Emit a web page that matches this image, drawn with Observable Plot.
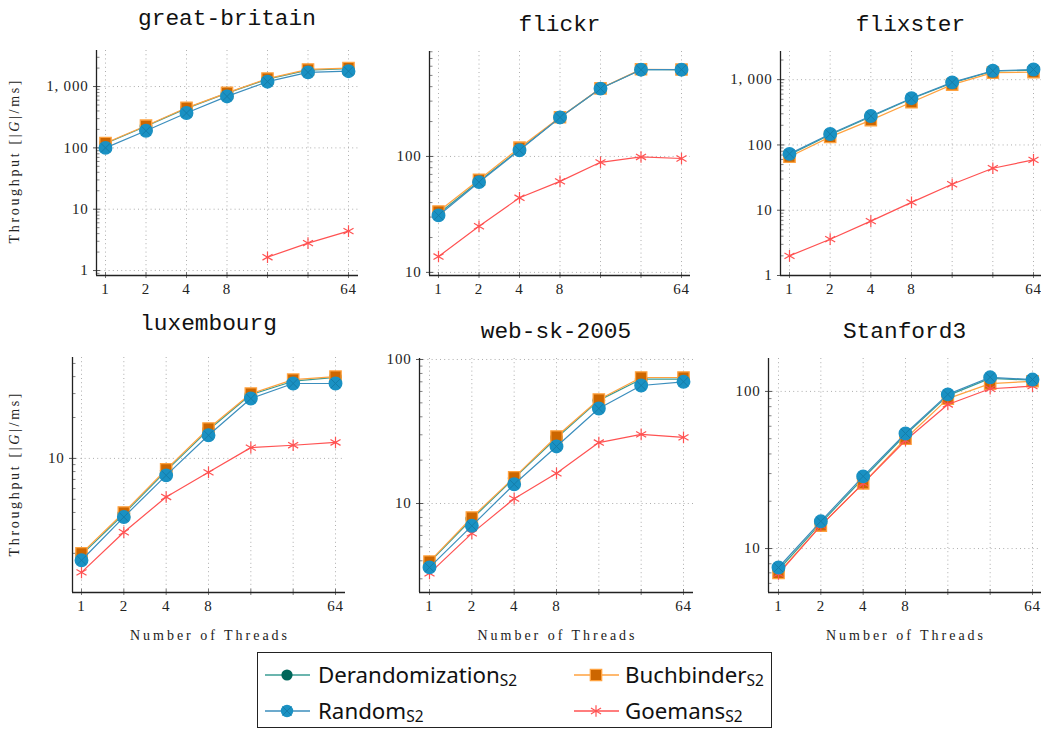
<!DOCTYPE html>
<html><head><meta charset="utf-8">
<script src="https://cdn.jsdelivr.net/npm/d3@7"></script>
<script src="https://cdn.jsdelivr.net/npm/@observablehq/plot@0.6"></script>
<style>
body{margin:0;background:#fff;}
#root{position:relative;width:1041px;height:729px;overflow:hidden;background:#fff;}
#root svg{overflow:visible;}
</style></head><body><div id="root"></div><script>
// ---------- data ----------
const threads = [1, 2, 4, 8, 16, 32, 64];
const xTickLabels = ["1", "2", "4", "8", "", "", "64"];
const yTickValues = [1, 10, 100, 1000];
const yTickLabels = ["1", "10", "100", "1, 000"];
const datasetNames = ["great-britain", "flickr", "flixster", "luxembourg", "web-sk-2005", "Stanford3"];
const seriesKeys = ["derand", "buch", "goemans", "random"];
const legendNames = ["Derandomization", "Buchbinder", "Random", "Goemans"];
const legendKeys = ["derand", "buch", "random", "goemans"];
const subscriptText = "S2";
const yAxisLabel = "Throughput";
const xAxisLabel = "Number of Threads";

const greatBritainDerand = [118, 225, 440, 780, 1320, 1850, 1950];
const greatBritainBuch   = [120, 230, 450, 790, 1350, 1900, 2000];
const greatBritainRandom = [100, 190, 370, 690, 1200, 1700, 1780];
const greatBritainGoemans= [null, null, null, null, 1.65, 2.8, 4.4];

const flickrDerand = [32, 61, 115, 217, 385, 560, 560];
const flickrBuch   = [33.5, 63, 119, 218, 387, 565, 562];
const flickrRandom = [31, 60, 113, 217, 385, 560, 560];
const flickrGoemans= [13.7, 25, 44, 61, 89, 99, 96];

const flixsterDerand = [71, 143, 270, 510, 890, 1350, 1400];
const flixsterBuch   = [66, 133, 240, 450, 840, 1280, 1300];
const flixsterRandom = [73, 147, 277, 520, 910, 1370, 1430];
const flixsterGoemans= [2.0, 3.6, 6.8, 13.2, 25, 44, 59];

const luxembourgDerand = [1.95, 3.9, 8.1, 16.2, 29.5, 37, 39.5];
const luxembourgBuch   = [2.0, 4.0, 8.3, 16.6, 30, 38, 40];
const luxembourgRandom = [1.78, 3.7, 7.5, 14.8, 27.6, 35.6, 35.6];
const luxembourgGoemans= [1.45, 2.86, 5.2, 7.9, 12.0, 12.5, 13.1];

const webSkDerand = [3.9, 7.8, 15, 28.5, 52, 73, 73];
const webSkBuch   = [3.95, 8.0, 15.2, 29.2, 52.7, 75, 75];
const webSkRandom = [3.6, 7.0, 13.6, 24.9, 45.7, 66, 70];
const webSkGoemans= [3.27, 6.2, 10.8, 16.2, 26.5, 30.2, 28.8];

const stanfordDerand = [7.3, 14.5, 28, 53, 94, 121, 118];
const stanfordBuch   = [7.0, 14, 26, 50, 90, 112, 116];
const stanfordRandom = [7.57, 14.9, 28.8, 54, 95.7, 123, 119];
const stanfordGoemans= [6.9, 14, 26, 48.7, 82.6, 104, 108];

const yLimits = [[0.83, 3870], [9.4, 804], [1.0, 2700], [1.03, 55.3], [2.41, 101.6], [5.25, 162]];

// ---------- layout / style ----------
const panels = [
  {derand: greatBritainDerand, buch: greatBritainBuch, random: greatBritainRandom, goemans: greatBritainGoemans},
  {derand: flickrDerand, buch: flickrBuch, random: flickrRandom, goemans: flickrGoemans},
  {derand: flixsterDerand, buch: flixsterBuch, random: flixsterRandom, goemans: flixsterGoemans},
  {derand: luxembourgDerand, buch: luxembourgBuch, random: luxembourgRandom, goemans: luxembourgGoemans},
  {derand: webSkDerand, buch: webSkBuch, random: webSkRandom, goemans: webSkGoemans},
  {derand: stanfordDerand, buch: stanfordBuch, random: stanfordRandom, goemans: stanfordGoemans}
];
const frames = [
  {L: 96, R: 358, T: 50, B: 275, x1: 105, x64: 348, titleY: 25},
  {L: 429, R: 690, T: 51, B: 275, x1: 438, x64: 681, titleY: 31},
  {L: 780, R: 1041, T: 51, B: 275, x1: 789, x64: 1033, titleY: 31},
  {L: 72, R: 345, T: 357, B: 592, x1: 81, x64: 335, titleY: 330},
  {L: 419, R: 693, T: 358, B: 592, x1: 429, x64: 683, titleY: 338},
  {L: 768, R: 1041, T: 358, B: 592, x1: 778, x64: 1032, titleY: 338}
];
const lineColor = {derand: "#3a9c93", buch: "#ffa23f", random: "#3b8ebd", goemans: "#ff5252"};
const markFill = {derand: "#00665a", buch: "#cc6600", random: "#1a91c3", goemans: "none"};
const gridStyle = {stroke: "#999", strokeOpacity: 1, strokeWidth: 0.8, strokeDasharray: "1,3.2"};

const xLabelMap = new Map(threads.map((t, i) => [t, xTickLabels[i]]));
const yLabelMap = new Map(yTickValues.map((v, i) => [v, yTickLabels[i]]));

const root = document.getElementById("root");
const overlay = d3.select(root).append("svg")
  .attr("width", 1041).attr("height", 729)
  .style("position", "absolute").style("left", "0px").style("top", "0px");

panels.forEach((p, i) => {
  const f = frames[i];
  const s = (f.x64 - f.x1) / 6;
  const xmin = 2 ** ((f.L - f.x1) / s);
  const xmax = 2 ** (6 + (f.R - f.x64) / s);
  const [ymin, ymax] = yLimits[i];
  const mL = 70, mT = 12, mB = 34, mR = 0;
  const plotW = f.R - f.L, plotH = f.B - f.T;
  const majors = [], minors = [];
  for (let e = -1; e <= 4; e++) for (let k = 1; k <= 9; k++) {
    const v = k * 10 ** e;
    if (v >= ymin && v <= ymax) (k === 1 ? majors : minors).push(v);
  }
  const rows = [];
  seriesKeys.forEach(key => threads.forEach((t, j) => {
    const v = p[key][j];
    if (v != null) rows.push({key, t, v});
  }));
  const sel = key => rows.filter(r => r.key === key);
  const lineMark = key => Plot.line(sel(key), {x: "t", y: "v", stroke: lineColor[key], strokeWidth: 1.2});
  const chart = Plot.plot({
    width: plotW + mL + mR, height: plotH + mT + mB,
    marginLeft: mL, marginRight: mR, marginTop: mT, marginBottom: mB,
    x: {type: "log", base: 2, domain: [xmin, xmax]},
    y: {type: "log", domain: [ymin, ymax]},
    style: {fontFamily: "'Liberation Serif', serif", fontSize: "15px", letterSpacing: "0.8px", color: "#222", background: "transparent", overflow: "visible"},
    marks: [
      Plot.gridX({ticks: threads, ...gridStyle}),
      Plot.gridY({ticks: majors, ...gridStyle}),
      Plot.tickY(minors, {y: d => d, insetRight: plotW - 3.5, stroke: "#666", strokeWidth: 0.8}),
      Plot.tickY(majors, {y: d => d, insetLeft: -3, insetRight: plotW - 4, stroke: "#444", strokeWidth: 0.9}),
      Plot.tickX(threads, {x: d => d, insetTop: plotH - 3, insetBottom: -3, stroke: "#666", strokeWidth: 0.9}),
      Plot.axisY({ticks: majors, tickSize: 0, tickPadding: 8, tickFormat: d => yLabelMap.get(d), label: null, fontSize: 15}),
      Plot.axisX({ticks: threads, tickSize: 0, tickPadding: 8, tickFormat: d => xLabelMap.get(d), label: null, fontSize: 15}),
      Plot.ruleX([xmin], {stroke: "#222", strokeWidth: 1.3}),
      Plot.ruleY([ymin], {stroke: "#222", strokeWidth: 1.3}),
      lineMark("derand"),
      Plot.dot(sel("derand"), {x: "t", y: "v", r: 5.6, fill: markFill.derand, stroke: markFill.derand}),
      lineMark("buch"),
      Plot.dot(sel("buch"), {x: "t", y: "v", symbol: "square", r: 6.4, fill: markFill.buch, stroke: lineColor.buch, strokeWidth: 1.3}),
      lineMark("goemans"),
      Plot.dot(sel("goemans"), {x: "t", y: "v", symbol: "asterisk", r: 5.5, stroke: lineColor.goemans, strokeWidth: 1.2}),
      lineMark("random"),
      Plot.dot(sel("random"), {x: "t", y: "v", r: 6.2, fill: markFill.random, stroke: markFill.random}),
      Plot.dot(sel("random"), {x: "t", y: "v", symbol: "times", r: 4.2, stroke: "#147aa6", strokeWidth: 0.9})
    ]
  });
  chart.style.position = "absolute";
  chart.style.left = (f.L - mL) + "px";
  chart.style.top = (f.T - mT) + "px";
  root.appendChild(chart);

  // title
  overlay.append("text").attr("x", (f.L + f.R) / 2).attr("y", f.titleY)
    .attr("text-anchor", "middle").attr("font-family", "'Liberation Mono', monospace")
    .attr("font-size", 22.8).attr("fill", "#111").text(datasetNames[i]);
  // y label for the left column
  if (i % 3 === 0) {
    const cy = i === 0 ? 162 : 475;
    const t = overlay.append("text").attr("transform", `translate(19,${cy}) rotate(-90)`)
      .attr("text-anchor", "middle").attr("font-family", "'Liberation Serif', serif")
      .attr("font-size", 14).attr("fill", "#222")
      .attr("textLength", 163).attr("lengthAdjust", "spacing");
    t.append("tspan").text(yAxisLabel + " [|");
    t.append("tspan").attr("font-style", "italic").text("G");
    t.append("tspan").text("|/ms]");
  }
  if (i >= 3) {
    overlay.append("text").attr("x", (f.L + f.R) / 2).attr("y", 640)
      .attr("text-anchor", "middle").attr("font-family", "'Liberation Serif', serif")
      .attr("font-size", 14).attr("fill", "#222")
      .attr("textLength", 157).attr("lengthAdjust", "spacing").text(xAxisLabel);
  }
});

// ---------- legend ----------
const lg = overlay.append("g");
lg.append("rect").attr("x", 257.5).attr("y", 652.5).attr("width", 514).attr("height", 75)
  .attr("fill", "#fff").attr("stroke", "#222").attr("stroke-width", 1);
const colX = [{l0: 265, l1: 310, m: 287, t: 318}, {l0: 574, l1: 619, m: 596, t: 625}];
const rowY = [675, 711];
legendKeys.forEach((key, k) => {
  const c = colX[k % 2], y = rowY[Math.floor(k / 2)];
  lg.append("line").attr("x1", c.l0).attr("x2", c.l1).attr("y1", y).attr("y2", y)
    .attr("stroke", lineColor[key]).attr("stroke-width", 1.3);
  const sym = {derand: d3.symbolCircle, buch: d3.symbolSquare, random: d3.symbolCircle, goemans: d3.symbolAsterisk}[key];
  const size = {derand: Math.PI * 5.6 * 5.6, buch: Math.PI * 6.4 * 6.4, random: Math.PI * 6.2 * 6.2, goemans: Math.PI * 5.5 * 5.5}[key];
  const path = lg.append("path").attr("d", d3.symbol(sym, size)()).attr("transform", `translate(${c.m},${y})`);
  if (key === "goemans") path.attr("fill", "none").attr("stroke", lineColor.goemans).attr("stroke-width", 1.2);
  else if (key === "buch") path.attr("fill", markFill.buch).attr("stroke", lineColor.buch).attr("stroke-width", 1.3);
  else path.attr("fill", markFill[key]);
  if (key === "random") lg.append("path").attr("d", d3.symbol(d3.symbolTimes, Math.PI * 4.2 * 4.2)())
    .attr("transform", `translate(${c.m},${y})`).attr("fill", "none").attr("stroke", "#147aa6").attr("stroke-width", 0.9);
  const t = lg.append("text").attr("x", c.t).attr("y", y + 7.5).attr("font-family", "'Noto Sans', sans-serif")
    .attr("font-size", 22.3).attr("fill", "#111");
  t.append("tspan").text(legendNames[k]);
  t.append("tspan").attr("font-size", 15.5).attr("dy", 3).text(subscriptText);
});
</script></body></html>
